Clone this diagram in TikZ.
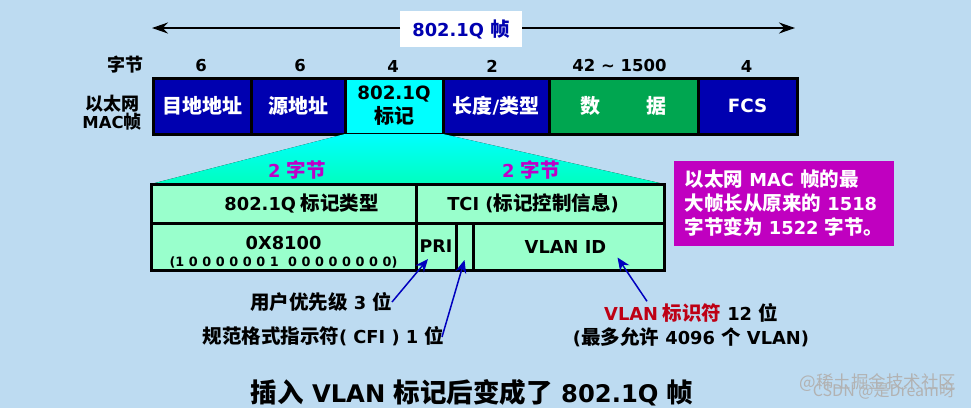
\documentclass[tikz,border=0pt]{standalone}
\usepackage{fontspec}
\setmainfont{Noto Sans CJK SC}
\newfontfamily\la{DejaVu Sans}[Scale=0.915]
\usetikzlibrary{positioning,arrows.meta}
\definecolor{pagebg}{RGB}{189,219,241}
\definecolor{deepblue}{RGB}{0,0,176}
\definecolor{datagreen}{RGB}{0,166,80}
\definecolor{tagcyan}{RGB}{0,255,255}
\definecolor{mint}{RGB}{153,255,204}
\definecolor{fan}{RGB}{0,255,190}
\definecolor{purple}{RGB}{190,0,200}
\definecolor{notebg}{RGB}{192,0,192}
\definecolor{arrowblue}{RGB}{0,0,190}
\definecolor{redtext}{RGB}{190,0,20}
\tikzstyle{txt}=[font=\fontsize{19.5}{22}\selectfont\bfseries,inner sep=0pt,outer sep=0pt]
\tikzstyle{field}=[txt,draw=black,line width=3pt,fill=deepblue,text=white,align=center,minimum height=56pt,font=\fontsize{20}{24}\selectfont\bfseries]
\tikzstyle{cell}=[txt,draw=black,line width=3pt,fill=mint,align=center]
\tikzstyle{pointer}=[-{Stealth[length=13pt,width=11pt]},arrowblue,line width=1.5pt]
\begin{document}
\begin{tikzpicture}[x=1pt,y=1pt]
	\fill[pagebg] (0,0) rectangle (971,-408);
	\useasboundingbox (0,0) rectangle (971,-408);
	% frame
	\node[field,minimum width=98pt,anchor=north west](dst) at (153,-78){目地地址};
	\node[field,minimum width=94pt](src)[right=0pt of dst]{源地址};
	\node[field,minimum width=98pt,fill=tagcyan,text=black](tag)[right=0pt of src]{\la 802.1Q\\标记};
	\node[field,minimum width=106pt](len)[right=0pt of tag]{长度{\la/}类型};
	\node[field,minimum width=149pt,fill=datagreen](pay)[right=0pt of len]{数\hspace{2.3em}据};
	\node[field,minimum width=99pt](fcs)[right=0pt of pay]{\la FCS};
	\node[txt,align=center,font=\fontsize{18}{17}\selectfont\bfseries](mac) at (112,-113){以太网\\\la MAC{\rmfamily 帧}};
	% byte counts
	\node[txt,font=\fontsize{18}{20}\selectfont\bfseries](bytes) at (125,-65){字节};
	\foreach \fld/\num/\dx in {dst/6/-1,src/6/2,tag/4/-1,len/2/-4,pay/42 \char`~{} 1500/-4,fcs/4/-1}
		\node[txt,font=\fontsize{18}{20}\selectfont\bfseries\la][above=6pt of \fld,xshift=\dx](n\fld){\num};
	% total length
	\node[txt,fill=white,text=deepblue,minimum width=122pt,minimum height=36pt](total) at (461,-29){\la 802.1Q {\rmfamily 帧}};
	\coordinate (leftend) at (152,-28);
	\coordinate (rightend) at (795,-28);
	\draw[-{Stealth[length=16pt,width=11pt]},line width=2pt]([yshift=1]total.west) -- (leftend);
	\draw[-{Stealth[length=16pt,width=11pt]},line width=2pt]([yshift=1]total.east) -- (rightend);
	% tag detail
	\node[cell,minimum width=265pt,minimum height=39pt,anchor=north west](typehead) at (151,-184){\hspace{36pt}{\la 802.1Q} 标记类型};
	\node[cell,minimum width=248pt,minimum height=39pt](tcihead)[right=0pt of typehead]{{\la TCI (}标记控制信息{\la )}\hspace{14pt}};
	\node[cell,minimum width=265pt,minimum height=47pt,anchor=north west](typeval) at (typehead.south west){};
	\node[txt,font=\fontsize{19.5}{22}\selectfont\bfseries\la](hexval) at ([yshift=4]typeval.center){0X8100};
	\node[txt,font=\fontsize{14}{16}\selectfont\bfseries\la](bitval) at ([yshift=-16]typeval.center){\spaceskip=4.6pt\relax (1 0 0 0 0 0 0 1 \ 0 0 0 0 0 0 0 0)};
	\node[cell,minimum width=40pt,minimum height=47pt,font=\fontsize{19}{22}\selectfont\bfseries\la](pri)[right=0pt of typeval]{PRI};
	\node[cell,minimum width=17pt,minimum height=47pt](cfi)[right=0pt of pri]{};
	\node[cell,minimum width=191pt,minimum height=47pt,font=\fontsize{19.5}{22}\selectfont\bfseries\la](vid)[right=0pt of cfi]{VLAN ID\hspace{6pt}};
	\begin{scope}
		\fill[top color=tagcyan,bottom color=fan](tag.south west) -- (tag.south east) -- (tcihead.north east) -- (typehead.north west) -- cycle;
	\end{scope}
	\draw[line width=3pt](typehead.north west) -- (tcihead.north east);
	\node[txt,text=purple](lbyte) at (297,-170){\la 2 {\rmfamily 字节}};
	\node[txt,text=purple](rbyte) at (531,-170){\la 2 {\rmfamily 字节}};
	% note
	\node[txt,fill=notebg,text=white,align=left,minimum width=220pt,minimum height=85pt,font=\fontsize{19.5}{24}\selectfont\bfseries](note) at (784,-203.5){以太网{\la\ MAC }帧的最\\大帧长从原来的{\la\ 1518}\\字节变为{\la\ 1522 }字节。};
	% pointers
	\node[txt,anchor=east](prilab) at (392,-302){用户优先级{\la\ 3 }位};
	\node[txt,anchor=east](cfilab) at (444,-336){规范格式指示符{\la ( CFI ) 1 }位};
	\node[txt,align=center,font=\fontsize{19.5}{24}\selectfont\bfseries](vidlab) at (691,-325){{\color{redtext}{\la VLAN} 标识符}{\la\ 12 }位\\{\la (}最多允许{\la\ 4096 }个{\la\ VLAN)}};
	\draw[pointer](prilab.east) -- ([xshift=-8,yshift=11]pri.south);
	\draw[pointer]([xshift=-2,yshift=-1]cfilab.east) -- ([xshift=0,yshift=10]cfi.south);
	\draw[pointer]([xshift=-44,yshift=2]vidlab.north) -- ([xshift=49,yshift=-11]vid.center);
	% caption
	\node[txt,font=\fontsize{26.5}{28}\selectfont\bfseries](caption) at (472,-393){插入{\la\ VLAN }标记后变成了{\la\ 802.1Q }帧};
	% watermark
	\node[txt,anchor=east,text=black!30,font=\fontsize{17.5}{18}\selectfont](mark1) at (956,-383){@稀土掘金技术社区};
	\node[txt,anchor=east,text=black!30,font=\fontsize{16}{18}\selectfont](mark2) at (955,-391){CSDN @是Dream呀};
\end{tikzpicture}
\end{document}
